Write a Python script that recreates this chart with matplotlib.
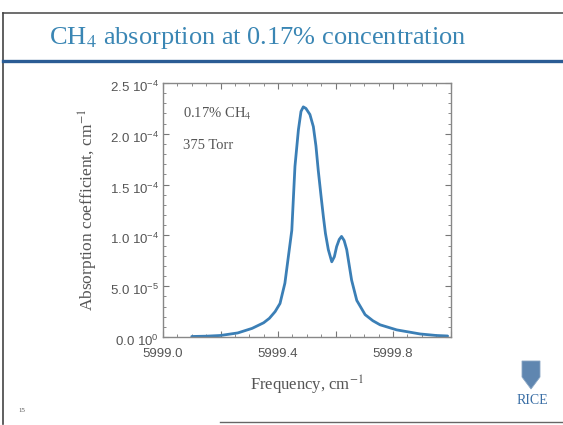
import matplotlib
matplotlib.use("Agg")
import matplotlib.pyplot as plt
from matplotlib.patches import Polygon
from matplotlib.lines import Line2D
from matplotlib.ticker import MultipleLocator, FixedLocator
from matplotlib.transforms import ScaledTranslation

plt.rcParams["mathtext.fontset"] = "custom"
plt.rcParams["mathtext.rm"] = "Liberation Sans"
plt.rcParams["mathtext.it"] = "Liberation Sans:italic"
plt.rcParams["mathtext.bf"] = "Liberation Sans:bold"

# Data (frequency in cm^-1, absorption coefficient in cm^-1)
freq = [5999.10, 5999.15, 5999.20, 5999.26, 5999.31, 5999.35, 5999.37, 5999.39,
        5999.407, 5999.424, 5999.436, 5999.448, 5999.459, 5999.471, 5999.480,
        5999.488, 5999.497, 5999.511, 5999.523, 5999.532, 5999.540, 5999.550,
        5999.558, 5999.565, 5999.575, 5999.587, 5999.596, 5999.604, 5999.613,
        5999.621, 5999.630, 5999.639, 5999.656, 5999.674, 5999.703, 5999.730,
        5999.755, 5999.813, 5999.894, 5999.950, 5999.990]
absorb = [0.05e-5, 0.08e-5, 0.15e-5, 0.4e-5, 0.85e-5, 1.4e-5, 1.84e-5, 2.5e-5,
          3.3e-5, 5.3e-5, 7.9e-5, 10.5e-5, 16.8e-5, 20.4e-5, 22.2e-5,
          22.65e-5, 22.5e-5, 21.9e-5, 20.7e-5, 18.8e-5, 16.4e-5, 13.8e-5,
          11.8e-5, 10.2e-5, 8.6e-5, 7.4e-5, 7.9e-5, 8.9e-5, 9.6e-5,
          9.9e-5, 9.5e-5, 8.6e-5, 5.6e-5, 3.6e-5, 2.2e-5, 1.6e-5,
          1.2e-5, 0.7e-5, 0.3e-5, 0.15e-5, 0.1e-5]

yticks = [0.0, 5.0e-5, 1.0e-4, 1.5e-4, 2.0e-4, 2.5e-4]
ytick_labels = [r"0.0 10$^{0}$", r"5.0 10$^{-5}$", r"1.0 10$^{-4}$",
                r"1.5 10$^{-4}$", r"2.0 10$^{-4}$", r"2.5 10$^{-4}$"]
xticks = [5999.0, 5999.2, 5999.4, 5999.6, 5999.8, 6000.0]
xtick_labels = ["5999.0", "", "5999.4", "", "5999.8", ""]

title = r"CH$_4$ absorption at 0.17% concentration"

W, H = 563, 425
fig = plt.figure(figsize=(W / 100, H / 100), dpi=100)
fig.patch.set_facecolor("white")

def fx(px):
    return px / W

def fy(py):
    return 1 - py / H

# slide frame
fig.add_artist(Line2D([fx(3), fx(563)], [fy(13), fy(13)], color="#555555", lw=1.2))
fig.add_artist(Line2D([fx(3), fx(3)], [fy(13), fy(424)], color="#444444", lw=1.2))
fig.add_artist(Line2D([fx(3), fx(563)], [fy(61), fy(61)], color="#2b5c94", lw=2.4))
fig.add_artist(Line2D([fx(220), fx(563)], [fy(422), fy(422)], color="#666666", lw=1.0))

fig.text(fx(258), fy(38), title, ha="center", va="center", fontsize=19,
         family="Liberation Serif", color="#3a86b4", math_fontfamily="stix")

ax = fig.add_axes([fx(163), fy(337), 287.5 / W, 254 / H])
ax.plot(freq, absorb, color="#3b7fb6", lw=2.0, solid_capstyle="round")
ax.set_xlim(5999.0, 6000.0)
ax.set_ylim(0, 2.5e-4)

ax.xaxis.set_major_locator(FixedLocator(xticks))
ax.set_xticklabels(xtick_labels)
ax.xaxis.set_minor_locator(MultipleLocator(0.05))
ax.yaxis.set_major_locator(FixedLocator(yticks))
ax.set_yticklabels(ytick_labels)
ax.yaxis.set_minor_locator(MultipleLocator(1e-5))
ax.tick_params(which="both", direction="in", top=True, right=True,
               color="#777777", labelcolor="#555555", labelsize=9.5,
               labelfontfamily="Liberation Sans")
ax.tick_params(which="major", length=4, width=0.8)
ax.tick_params(which="minor", length=2, width=0.6)
ax.tick_params(axis="x", which="major", pad=8)
ax.tick_params(axis="y", which="major", pad=3)
shift = ScaledTranslation(0, -3 / 100, fig.dpi_scale_trans)
for lab in ax.get_yticklabels():
    lab.set_transform(lab.get_transform() + shift)
for s in ax.spines.values():
    s.set_color("#888888")
    s.set_linewidth(1.0)

ax.set_xlabel(r"Frequency, cm$^{-1}$", fontsize=12, family="Liberation Serif",
              color="#555555", math_fontfamily="stix")
ax.xaxis.label.set_va("center")
ax.xaxis.set_label_coords(0.50, -0.19)
ax.set_ylabel(r"Absorption coefficient, cm$^{-1}$", fontsize=12.5,
              family="Liberation Serif", color="#555555", math_fontfamily="stix")
ax.yaxis.label.set_va("center")
ax.yaxis.set_label_coords(-0.261, 0.5)

ax.text(0.07, 0.88, r"0.17% CH$_4$", transform=ax.transAxes, fontsize=10.5,
        family="Liberation Serif", color="#555555", va="center",
        math_fontfamily="stix")
ax.text(0.07, 0.755, "375 Torr", transform=ax.transAxes, fontsize=10.5,
        family="Liberation Serif", color="#555555", va="center")

# slide number
fig.text(fx(22), fy(411), "15", fontsize=5, color="#555555",
         family="Liberation Serif", ha="center", va="center")

# RICE logo (simple shield and wordmark)
shield = [(522, 361), (540, 361), (540, 377), (531, 389), (522, 377)]
fig.add_artist(Polygon([(fx(x), fy(y)) for x, y in shield], closed=True,
                       facecolor="#5f86b0", edgecolor="#8aa6c4", lw=0.6))
fig.text(fx(532), fy(401), "RICE", fontsize=10, color="#3a6ea5",
         family="Liberation Serif", ha="center", va="center")

fig.savefig("out.png", dpi=100, facecolor="white")
